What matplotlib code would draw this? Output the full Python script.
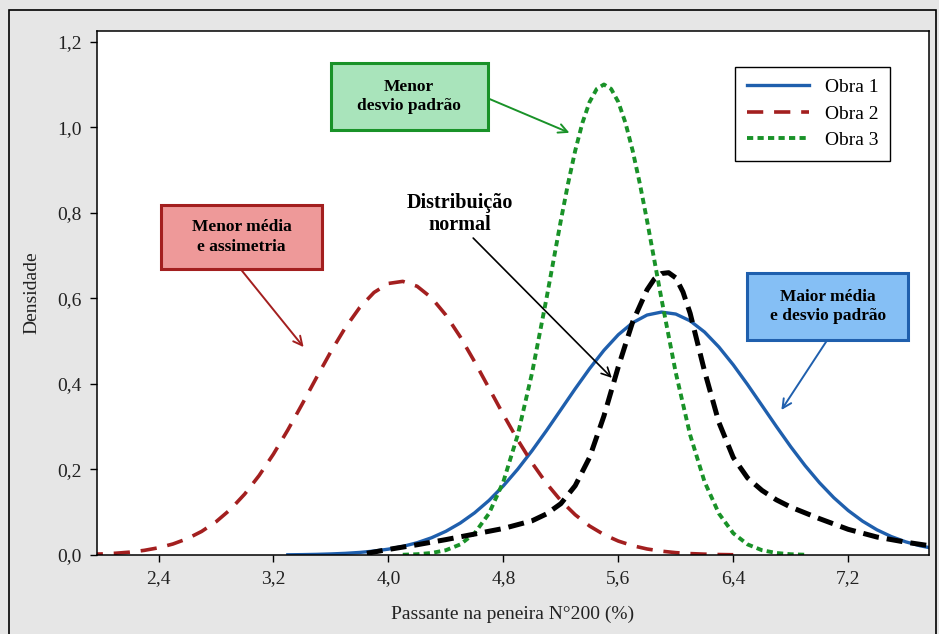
import matplotlib.pyplot as plt
from matplotlib.patches import Rectangle

plt.rcParams['font.family'] = ['Liberation Serif', 'DejaVu Serif']

# Obra 1 - densidade
x_obra1 = [3.3, 3.4, 3.5, 3.6, 3.7, 3.8, 3.9, 4.0, 4.1, 4.2, 4.3, 4.4, 4.5, 4.6, 4.7,
           4.8, 4.9, 5.0, 5.1, 5.2, 5.3, 5.4, 5.5, 5.6, 5.7, 5.8, 5.9, 6.0, 6.1, 6.2,
           6.3, 6.4, 6.5, 6.6, 6.7, 6.8, 6.9, 7.0, 7.1, 7.2, 7.3, 7.4, 7.5, 7.6, 7.7, 7.8]
y_obra1 = [0.0005, 0.0009, 0.0015, 0.0025, 0.0039, 0.0060, 0.0092, 0.0137, 0.0201, 0.0287,
           0.0403, 0.0554, 0.0747, 0.0986, 0.1275, 0.1616, 0.2006, 0.2440, 0.2908, 0.3396,
           0.3886, 0.4356, 0.4785, 0.5150, 0.5430, 0.5610, 0.5679, 0.5633, 0.5474, 0.5213,
           0.4863, 0.4446, 0.3982, 0.3494, 0.3005, 0.2531, 0.2089, 0.1690, 0.1339, 0.1040,
           0.0791, 0.0589, 0.0431, 0.0308, 0.0216, 0.0148]

# Obra 2
x_obra2 = [1.9, 2.0, 2.1, 2.2, 2.3, 2.4, 2.5, 2.6, 2.7, 2.8, 2.9, 3.0, 3.1, 3.2, 3.3,
           3.4, 3.5, 3.6, 3.7, 3.8, 3.9, 4.0, 4.1, 4.2, 4.3, 4.4, 4.5, 4.6, 4.7, 4.8,
           4.9, 5.0, 5.1, 5.2, 5.3, 5.4, 5.5, 5.6, 5.7, 5.8, 5.9, 6.0, 6.1, 6.2, 6.3, 6.4]
y_obra2 = [0.0014, 0.0024, 0.0041, 0.0067, 0.0108, 0.0169, 0.0257, 0.0381, 0.0551, 0.0776,
           0.1064, 0.1425, 0.1857, 0.2360, 0.2923, 0.3528, 0.4150, 0.4756, 0.5314, 0.5785,
           0.6138, 0.6348, 0.6397, 0.6282, 0.6013, 0.5609, 0.5100, 0.4518, 0.3901, 0.3282,
           0.2691, 0.2151, 0.1675, 0.1272, 0.0941, 0.0678, 0.0477, 0.0326, 0.0218, 0.0141,
           0.0090, 0.0055, 0.0033, 0.0020, 0.0011, 0.0006]

# Obra 3
x_obra3 = [4.1, 4.2, 4.3, 4.4, 4.5, 4.6, 4.7, 4.8, 4.9, 5.0, 5.1, 5.2, 5.25, 5.3, 5.35,
           5.4, 5.45, 5.5, 5.55, 5.6, 5.65, 5.7, 5.75, 5.8, 5.9, 6.0, 6.1, 6.2, 6.3,
           6.4, 6.5, 6.6, 6.7, 6.8, 6.9]
y_obra3 = [0.0006, 0.0018, 0.0047, 0.0112, 0.0247, 0.0509, 0.0970, 0.1714, 0.2806, 0.4260,
           0.5994, 0.7818, 0.8678, 0.9451, 1.0100, 1.0591, 1.0896, 1.1000, 1.0896, 1.0591,
           1.0100, 0.9451, 0.8678, 0.7818, 0.5994, 0.4260, 0.2806, 0.1714, 0.0970,
           0.0509, 0.0247, 0.0112, 0.0047, 0.0018, 0.0006]

# curva de referencia (distribuicao normal)
x_normal = [3.85, 4.0, 4.2, 4.4, 4.6, 4.8, 5.0, 5.1, 5.2, 5.3, 5.4, 5.5, 5.6, 5.7, 5.8,
            5.85, 5.9, 5.95, 6.0, 6.05, 6.1, 6.2, 6.3, 6.4, 6.5, 6.6, 6.7, 6.8, 7.0, 7.2,
            7.4, 7.6, 7.8]
y_normal = [0.004, 0.013, 0.024, 0.036, 0.049, 0.062, 0.080, 0.096, 0.120, 0.162, 0.228,
            0.325, 0.440, 0.545, 0.620, 0.645, 0.658, 0.660, 0.648, 0.615, 0.565, 0.430,
            0.310, 0.228, 0.180, 0.151, 0.129, 0.112, 0.085, 0.060, 0.042, 0.030, 0.020]

x_ticks = [2.4, 3.2, 4.0, 4.8, 5.6, 6.4, 7.2]
y_ticks = [0.0, 0.2, 0.4, 0.6, 0.8, 1.0, 1.2]

c_blue = '#1f5fad'
c_red = '#a31f1f'
c_green = '#199228'

fig = plt.figure(figsize=(9.39, 6.34), dpi=100, facecolor='#e6e6e6')
ax = fig.add_axes([0.103, 0.1246, 0.886, 0.8265])
ax.set_facecolor('white')

ax.plot(x_obra1, y_obra1, color=c_blue, lw=2.4, label='Obra 1')
ax.plot(x_obra2, y_obra2, color=c_red, lw=2.6, dashes=(4.5, 3), label='Obra 2')
ax.plot(x_obra3, y_obra3, color=c_green, lw=2.8, dashes=(1.6, 1.1), label='Obra 3')
ax.plot(x_normal, y_normal, color='black', lw=3.6, dashes=(3.2, 1.6))

ax.set_xlim(1.97, 7.76)
ax.set_ylim(0, 1.225)
ax.set_xticks(x_ticks)
ax.set_yticks(y_ticks)
ax.set_xticklabels([('%.1f' % v).replace('.', ',') for v in x_ticks], fontsize=14)
ax.set_yticklabels([('%.1f' % v).replace('.', ',') for v in y_ticks], fontsize=14)
ax.tick_params(direction='out', length=5, width=1, pad=6, labelcolor='#222222')
for s in ax.spines.values():
    s.set_linewidth(1.1)

ax.set_xlabel('Passante na peneira N°200 (%)', fontsize=14, labelpad=13, color='#222222')
ax.set_ylabel('Densidade', fontsize=14, labelpad=12, color='#222222')

leg = ax.legend(loc='upper right', bbox_to_anchor=(0.965, 0.95), fontsize=14,
                fancybox=False, framealpha=1, edgecolor='black', handlelength=3.2,
                borderpad=0.6, labelspacing=0.45)
leg.get_frame().set_linewidth(1.0)


# caixas de anotacao com seta
def caixa(x0, y0, x1, y1, face, edge, texto, xt, yt, xa, ya):
    ax.add_patch(Rectangle((x0, y0), x1 - x0, y1 - y0, facecolor=face, edgecolor=edge,
                           lw=2.2, zorder=5))
    ax.text((x0 + x1) / 2, (y0 + y1) / 2, texto, ha='center', va='center',
            fontsize=12.5, fontweight='bold', zorder=6, linespacing=1.3)
    ax.annotate('', xy=(xa, ya), xytext=(xt, yt),
                arrowprops=dict(arrowstyle='->', color=edge, lw=1.4,
                                mutation_scale=16, shrinkA=0, shrinkB=0))


caixa(3.60, 0.994, 4.69, 1.150, '#a9e4bb', c_green, 'Menor\ndesvio padrão',
      4.69, 1.068, 5.26, 0.987)
caixa(2.416, 0.669, 3.541, 0.818, '#ee9999', c_red, 'Menor média\ne assimetria',
      2.97, 0.669, 3.41, 0.486)
caixa(6.499, 0.503, 7.617, 0.659, '#85bff5', c_blue, 'Maior média\ne desvio padrão',
      7.055, 0.503, 6.735, 0.339)

ax.text(4.50, 0.798, 'Distribuição\nnormal', ha='center', va='center', fontsize=14.5,
        fontweight='bold', linespacing=1.15)
ax.annotate('', xy=(5.555, 0.414), xytext=(4.59, 0.741),
            arrowprops=dict(arrowstyle='->', color='black', lw=1.2,
                            mutation_scale=16, shrinkA=0, shrinkB=0))

# moldura externa
fig.patches.append(Rectangle((9 / 939, -0.02), 927 / 939, 1 - 10 / 634 + 0.02,
                             transform=fig.transFigure, fill=False,
                             edgecolor='black', lw=1.2))

fig.savefig('out.png', dpi=100, facecolor=fig.get_facecolor())
